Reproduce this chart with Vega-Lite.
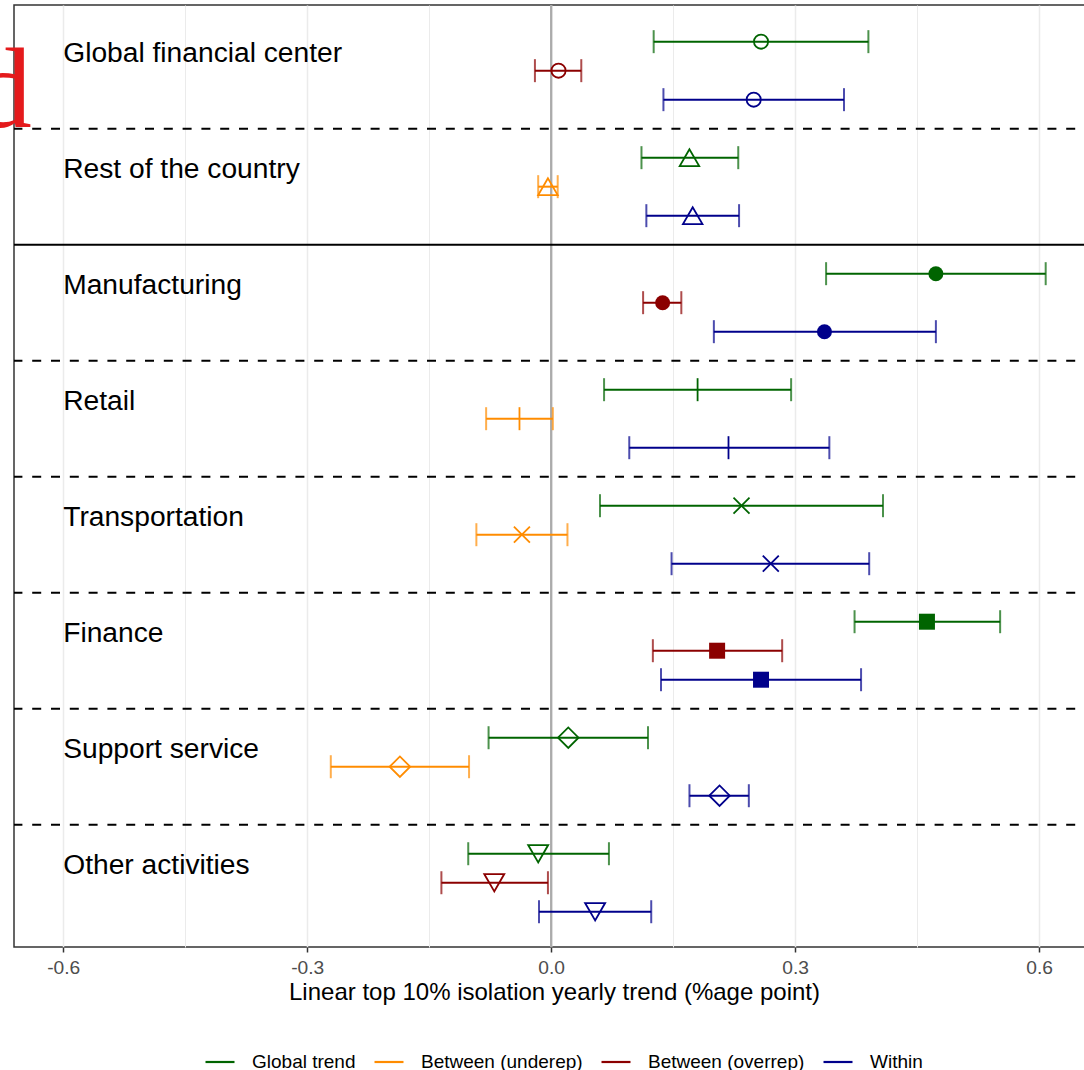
{
  "$schema": "https://vega.github.io/schema/vega-lite/v6.json",
  "width": 1080,
  "height": 942,
  "autosize": {"type": "none"},
  "padding": {"left": 14, "top": 5, "right": -10, "bottom": 123},
  "background": "white",
  "config": {
    "font": "Liberation Sans",
    "view": {"stroke": "#333333", "strokeWidth": 1.5},
    "legend": {
      "orient": "none",
      "legendX": 190,
      "legendY": 1041,
      "direction": "horizontal",
      "symbolType": "stroke",
      "symbolSize": 841,
      "symbolStrokeWidth": 2.2,
      "labelFont": "Liberation Sans",
      "labelFontSize": 19,
      "labelColor": "black",
      "labelLimit": 0,
      "labelOffset": 16,
      "columnPadding": 14
    }
  },
  "datasets": {
    "trends": [
      {"group": "Global financial center", "term": "Global", "component": "Global trend", "est": 0.258, "lo": 0.126, "hi": 0.390},
      {"group": "Global financial center", "term": "Between", "component": "Between (overrep)", "est": 0.009, "lo": -0.020, "hi": 0.037},
      {"group": "Global financial center", "term": "Within", "component": "Within", "est": 0.249, "lo": 0.138, "hi": 0.360},
      {"group": "Rest of the country", "term": "Global", "component": "Global trend", "est": 0.170, "lo": 0.111, "hi": 0.230},
      {"group": "Rest of the country", "term": "Between", "component": "Between (underep)", "est": -0.004, "lo": -0.016, "hi": 0.008},
      {"group": "Rest of the country", "term": "Within", "component": "Within", "est": 0.174, "lo": 0.117, "hi": 0.231},
      {"group": "Manufacturing", "term": "Global", "component": "Global trend", "est": 0.473, "lo": 0.338, "hi": 0.608},
      {"group": "Manufacturing", "term": "Between", "component": "Between (overrep)", "est": 0.137, "lo": 0.113, "hi": 0.160},
      {"group": "Manufacturing", "term": "Within", "component": "Within", "est": 0.336, "lo": 0.200, "hi": 0.473},
      {"group": "Retail", "term": "Global", "component": "Global trend", "est": 0.180, "lo": 0.065, "hi": 0.295},
      {"group": "Retail", "term": "Between", "component": "Between (underep)", "est": -0.039, "lo": -0.080, "hi": 0.002},
      {"group": "Retail", "term": "Within", "component": "Within", "est": 0.218, "lo": 0.096, "hi": 0.342},
      {"group": "Transportation", "term": "Global", "component": "Global trend", "est": 0.234, "lo": 0.060, "hi": 0.408},
      {"group": "Transportation", "term": "Between", "component": "Between (underep)", "est": -0.036, "lo": -0.092, "hi": 0.020},
      {"group": "Transportation", "term": "Within", "component": "Within", "est": 0.270, "lo": 0.148, "hi": 0.391},
      {"group": "Finance", "term": "Global", "component": "Global trend", "est": 0.462, "lo": 0.373, "hi": 0.552},
      {"group": "Finance", "term": "Between", "component": "Between (overrep)", "est": 0.204, "lo": 0.125, "hi": 0.284},
      {"group": "Finance", "term": "Within", "component": "Within", "est": 0.258, "lo": 0.135, "hi": 0.381},
      {"group": "Support service", "term": "Global", "component": "Global trend", "est": 0.021, "lo": -0.077, "hi": 0.119},
      {"group": "Support service", "term": "Between", "component": "Between (underep)", "est": -0.186, "lo": -0.271, "hi": -0.101},
      {"group": "Support service", "term": "Within", "component": "Within", "est": 0.207, "lo": 0.170, "hi": 0.243},
      {"group": "Other activities", "term": "Global", "component": "Global trend", "est": -0.016, "lo": -0.102, "hi": 0.071},
      {"group": "Other activities", "term": "Between", "component": "Between (overrep)", "est": -0.070, "lo": -0.135, "hi": -0.004},
      {"group": "Other activities", "term": "Within", "component": "Within", "est": 0.054, "lo": -0.015, "hi": 0.123}
    ]
  },
  "data": {"name": "trends"},
  "layer": [
    {
      "data": {"values": [{}]},
      "mark": {"type": "rule", "color": "#ABABAB", "strokeWidth": 2.3},
      "encoding": {
        "x": {
          "datum": 0,
          "type": "quantitative",
          "scale": {"domain": [-0.6605, 0.6674], "nice": false, "zero": false},
          "axis": {
            "title": "Linear top 10% isolation yearly trend (%age point)",
            "values": [-0.6, -0.45, -0.3, -0.15, 0, 0.15, 0.3, 0.45, 0.6],
            "labelExpr": "abs(round(datum.value * 100)) % 30 == 0 ? (datum.value == 0 ? '0.0' : toString(datum.value)) : ''",
            "labelFlush": false,
            "labelOverlap": false,
            "domain": false,
            "grid": true,
            "gridColor": "#EBEBEB",
            "gridWidth": {"condition": {"test": "abs(round(datum.value * 100)) % 30 == 0", "value": 1.5}, "value": 1},
            "tickColor": "#333333",
            "tickWidth": 1.5,
            "tickSize": 5,
            "tickOpacity": {"condition": {"test": "abs(round(datum.value * 100)) % 30 == 0", "value": 1}, "value": 0},
            "labelFont": "Liberation Sans",
            "labelFontSize": 19.2,
            "labelColor": "#4D4D4D",
            "labelPadding": 6,
            "titleFont": "Liberation Sans",
            "titleFontSize": 24,
            "titleFontWeight": "normal",
            "titleColor": "black",
            "titlePadding": 3
          }
        }
      }
    },
    {
      "data": {"values": [
        {"group": "Global financial center"},
        {"group": "Manufacturing"},
        {"group": "Retail"},
        {"group": "Transportation"},
        {"group": "Finance"},
        {"group": "Support service"}
      ]},
      "mark": {"type": "rule", "color": "black", "strokeWidth": 2, "strokeDash": [9, 9.8]},
      "encoding": {
        "y": {
          "field": "group", "type": "nominal", "bandPosition": 1, "axis": null,
          "scale": {"type": "band", "domain": ["Global financial center", "Rest of the country", "Manufacturing", "Retail", "Transportation", "Finance", "Support service", "Other activities"], "paddingInner": 0, "paddingOuter": 0.06, "align": 0.55}
        }
      }
    },
    {
      "data": {"values": [{"group": "Rest of the country"}]},
      "mark": {"type": "rule", "color": "black", "strokeWidth": 2},
      "encoding": {
        "y": {
          "field": "group", "type": "nominal", "bandPosition": 1, "axis": null,
          "scale": {"type": "band", "domain": ["Global financial center", "Rest of the country", "Manufacturing", "Retail", "Transportation", "Finance", "Support service", "Other activities"], "paddingInner": 0, "paddingOuter": 0.06, "align": 0.55}
        }
      }
    },
    {
      "mark": {"type": "rule", "strokeWidth": 2},
      "encoding": {
        "x": {"field": "lo", "type": "quantitative", "scale": {"domain": [-0.6605, 0.6674], "nice": false, "zero": false}},
        "x2": {"field": "hi"},
        "y": {
          "field": "group", "type": "nominal", "axis": null,
          "scale": {"type": "band", "domain": ["Global financial center", "Rest of the country", "Manufacturing", "Retail", "Transportation", "Finance", "Support service", "Other activities"], "paddingInner": 0, "paddingOuter": 0.06, "align": 0.55}
        },
        "yOffset": {"field": "term", "type": "nominal", "scale": {"type": "band", "domain": ["Global", "Between", "Within"], "paddingInner": 0, "paddingOuter": 0.5}},
        "color": {
          "field": "component", "type": "nominal",
          "scale": {"domain": ["Global trend", "Between (underep)", "Between (overrep)", "Within"], "range": ["#006400", "#FF8C00", "#8B0000", "#00008B"]},
          "legend": {"title": null}
        }
      }
    },
    {
      "mark": {"type": "tick", "size": 23, "thickness": 2},
      "encoding": {
        "x": {"field": "lo", "type": "quantitative", "scale": {"domain": [-0.6605, 0.6674], "nice": false, "zero": false}},
        "y": {"field": "group", "type": "nominal", "axis": null},
        "yOffset": {"field": "term", "type": "nominal"},
        "color": {"field": "component", "type": "nominal", "legend": null}
      }
    },
    {
      "mark": {"type": "tick", "size": 23, "thickness": 2},
      "encoding": {
        "x": {"field": "hi", "type": "quantitative", "scale": {"domain": [-0.6605, 0.6674], "nice": false, "zero": false}},
        "y": {"field": "group", "type": "nominal", "axis": null},
        "yOffset": {"field": "term", "type": "nominal"},
        "color": {"field": "component", "type": "nominal", "legend": null}
      }
    },
    {
      "transform": [{"filter": "datum.group != 'Manufacturing' && datum.group != 'Finance'"}],
      "mark": {"type": "point", "filled": false, "strokeWidth": 1.8, "opacity": 1},
      "encoding": {
        "x": {"field": "est", "type": "quantitative", "scale": {"domain": [-0.6605, 0.6674], "nice": false, "zero": false}},
        "y": {"field": "group", "type": "nominal", "axis": null},
        "yOffset": {"field": "term", "type": "nominal"},
        "color": {"field": "component", "type": "nominal", "legend": null},
        "shape": {
          "field": "group", "type": "nominal", "legend": null,
          "scale": {
            "domain": ["Global financial center", "Rest of the country", "Manufacturing", "Retail", "Transportation", "Finance", "Support service", "Other activities"],
            "range": ["circle", "triangle-up", "circle", "M0,-1L0,1", "M-1,-1L1,1M-1,1L1,-1", "square", "diamond", "triangle-down"]
          }
        },
        "size": {
          "field": "group", "type": "nominal", "legend": null,
          "scale": {
            "type": "ordinal",
            "domain": ["Global financial center", "Rest of the country", "Manufacturing", "Retail", "Transportation", "Finance", "Support service", "Other activities"],
            "range": [200, 380, 225, 529, 256, 256, 420, 400]
          }
        }
      }
    },
    {
      "transform": [{"filter": "datum.group == 'Manufacturing' || datum.group == 'Finance'"}],
      "mark": {"type": "point", "filled": true, "opacity": 1},
      "encoding": {
        "x": {"field": "est", "type": "quantitative", "scale": {"domain": [-0.6605, 0.6674], "nice": false, "zero": false}},
        "y": {"field": "group", "type": "nominal", "axis": null},
        "yOffset": {"field": "term", "type": "nominal"},
        "color": {"field": "component", "type": "nominal", "legend": null},
        "shape": {
          "field": "group", "type": "nominal", "legend": null,
          "scale": {
            "domain": ["Global financial center", "Rest of the country", "Manufacturing", "Retail", "Transportation", "Finance", "Support service", "Other activities"],
            "range": ["circle", "triangle-up", "circle", "M0,-1L0,1", "M-1,-1L1,1M-1,1L1,-1", "square", "diamond", "triangle-down"]
          }
        },
        "size": {
          "field": "group", "type": "nominal", "legend": null,
          "scale": {
            "type": "ordinal",
            "domain": ["Global financial center", "Rest of the country", "Manufacturing", "Retail", "Transportation", "Finance", "Support service", "Other activities"],
            "range": [200, 380, 225, 529, 256, 256, 420, 400]
          }
        }
      }
    },
    {
      "transform": [{"filter": "datum.term == 'Global'"}],
      "mark": {"type": "text", "align": "left", "baseline": "alphabetic", "fontSize": 28.2, "font": "Liberation Sans", "color": "black"},
      "encoding": {
        "x": {"datum": -0.6, "type": "quantitative"},
        "y": {"field": "group", "type": "nominal", "bandPosition": 0.428, "axis": null},
        "text": {"field": "group"}
      }
    },
    {
      "data": {"values": [{"panel": "d", "group": "Global financial center"}]},
      "mark": {"type": "text", "align": "right", "baseline": "alphabetic", "fontSize": 115, "font": "Liberation Serif", "color": "#E41A1C", "clip": false},
      "encoding": {
        "x": {"datum": -0.6388, "type": "quantitative"},
        "y": {"field": "group", "type": "nominal", "bandPosition": 0.986, "axis": null},
        "text": {"field": "panel"}
      }
    }
  ]
}
